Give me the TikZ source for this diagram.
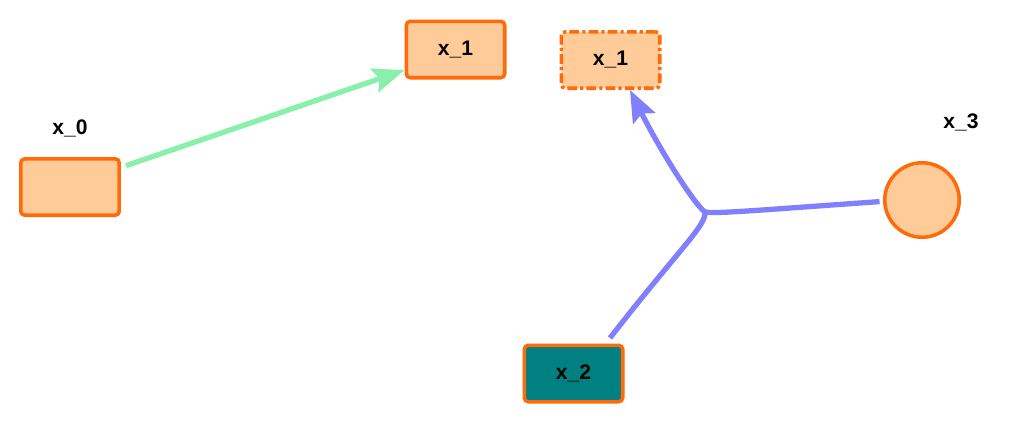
\documentclass[tikz,border=0pt]{standalone}
\usepackage{fontspec}
\setmainfont{Liberation Sans}
\usetikzlibrary{arrows.meta}
\usetikzlibrary{positioning}

\definecolor{peach}{RGB}{255,204,153}
\definecolor{edgeorange}{RGB}{255,106,10}
\definecolor{tealbox}{RGB}{0,128,128}
\definecolor{greenline}{RGB}{136,240,170}
\definecolor{blueline}{RGB}{128,128,255}

\begin{document}
\begin{tikzpicture}[x=0.02cm,y=-0.02cm,
  box/.style={rectangle,rounded corners=2.3pt,draw=edgeorange,line width=2pt,fill=peach,minimum width=1.97cm,minimum height=1.13cm,font=\fontsize{12}{14}\selectfont\bfseries},
  lbl/.style={font=\fontsize{12}{14}\selectfont\bfseries},
  hyper/.style={draw=blueline,line width=3pt}]
\useasboundingbox[fill=white] (0,0) rectangle (1020,424);

\node[box] (x0) at (70,187) {};
\node[lbl] (l0) at (70,128) {x\_0};
\node[box] (x1) at (455.5,49.5) {x\_1};
\node[box,dash pattern=on 5.5pt off 1.8pt on 1.8pt off 1.8pt] (x1b) at (610.5,60) {x\_1};
\node[box,fill=tealbox] (x2) at (573.5,373.5) {x\_2};
\node[circle,draw=edgeorange,line width=2pt,fill=peach,minimum size=1.49cm] (x3) at (922,200) {};
\node[lbl] (l3) at (961,122) {x\_3};

\draw[greenline,line width=3pt,shorten <=3,-{Stealth[length=18pt,width=14pt,inset=3pt]}] (x0.21) -- (x1.202);

\coordinate (j) at (705,212);
\draw[hyper,shorten <=4] (x2.43) .. controls (680,248) and (706,226) .. (j);
\draw[hyper,shorten <=2] (x3.182) .. controls (760,210) and (716,214) .. (j);
\draw[hyper,-{Stealth[length=18pt,width=14pt,inset=3pt]}] (j) .. controls (694,204) and (660,150) .. (x1b.303);

\end{tikzpicture}
\end{document}
